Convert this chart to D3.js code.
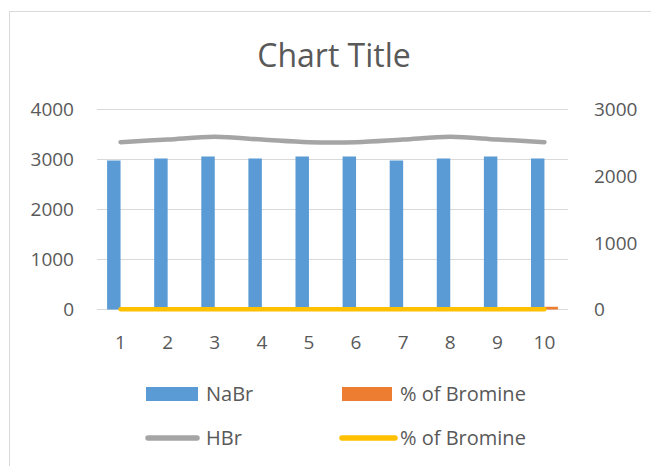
<!DOCTYPE html>
<html>
<head>
<meta charset="utf-8">
<script src="https://cdn.jsdelivr.net/npm/d3@7"></script>
<style>
  body { margin: 0; background: #fff; }
  svg text { font-family: "Open Sans", sans-serif; fill: #595959; }
</style>
</head>
<body>
<script>
// values
let categories = ['1', '2', '3', '4', '5', '6', '7', '8', '9', '10'];
let nabr = [2980, 3020, 3060, 3020, 3060, 3060, 2980, 3020, 3060, 3020];
let bromineBars = [50, 50, 50, 50, 50, 50, 50, 50, 50, 55];
let hbr = [2510, 2550, 2590, 2550, 2510, 2510, 2550, 2590, 2550, 2510];
let bromineLine = [5, 5, 5, 5, 5, 5, 5, 5, 5, 5];
let leftTicks = [0, 1000, 2000, 3000, 4000];
let rightTicks = [0, 1000, 2000, 3000];

const W = 651, H = 466;
const plotLeft = 97, plotRight = 568, plotTop = 109.5, plotBottom = 309.5;

var svg = d3.select('body').append('svg')
  .attr('width', W)
  .attr('height', H);

// chart border (runs off the right / bottom edge in the reference)
svg.append('rect')
  .attr('x', 9.5).attr('y', 11.5)
  .attr('width', 700).attr('height', 500)
  .attr('fill', '#fff')
  .attr('stroke', '#d9d9d9');

svg.append('text')
  .attr('x', 334).attr('y', 67)
  .attr('text-anchor', 'middle')
  .style('font-size', '32px')
  .text('Chart Title');

var x = d3.scaleBand().domain(categories).range([plotLeft, plotRight]);
var y = d3.scaleLinear().domain([0, 4000]).range([plotBottom, plotTop]);
var y2 = d3.scaleLinear().domain([0, 3000]).range([plotBottom, plotTop]);

// excel style clustered bars, gap width 150%
var barW = x.bandwidth() / 3.5;
var groupOff = (x.bandwidth() - 2 * barW) / 2;

// gridlines
svg.append('g').selectAll('line')
  .data(leftTicks)
  .enter()
  .append('line')
  .attr('x1', plotLeft).attr('x2', plotRight)
  .attr('y1', function (d) { return y(d); })
  .attr('y2', function (d) { return y(d); })
  .attr('stroke', '#d9d9d9')
  .attr('stroke-width', 1);

// left axis labels
svg.append('g').selectAll('text')
  .data(leftTicks)
  .enter()
  .append('text')
  .attr('x', 74)
  .attr('y', function (d) { return y(d); })
  .attr('dy', '0.36em')
  .attr('text-anchor', 'end')
  .style('font-size', '19px')
  .text(function (d) { return d; });

// right axis labels
svg.append('g').selectAll('text')
  .data(rightTicks)
  .enter()
  .append('text')
  .attr('x', 594)
  .attr('y', function (d) { return y2(d); })
  .attr('dy', '0.36em')
  .style('font-size', '19px')
  .text(function (d) { return d; });

// x labels
svg.append('g').selectAll('text')
  .data(categories)
  .enter()
  .append('text')
  .attr('x', function (d) { return x(d) + x.bandwidth() / 2; })
  .attr('y', 342)
  .attr('dy', '0.36em')
  .attr('text-anchor', 'middle')
  .style('font-size', '19px')
  .text(function (d) { return d; });

// NaBr bars
svg.append('g').selectAll('rect')
  .data(nabr)
  .enter()
  .append('rect')
  .attr('x', function (d, i) { return x(categories[i]) + groupOff; })
  .attr('y', function (d) { return y(d); })
  .attr('width', barW)
  .attr('height', function (d) { return y(0) - y(d); })
  .attr('fill', '#5b9bd5');

// % of Bromine bars
svg.append('g').selectAll('rect')
  .data(bromineBars)
  .enter()
  .append('rect')
  .attr('x', function (d, i) { return x(categories[i]) + groupOff + barW; })
  .attr('y', function (d) { return y(d); })
  .attr('width', barW)
  .attr('height', function (d) { return y(0) - y(d); })
  .attr('fill', '#ed7d31');

var cx = function (d, i) { return x(categories[i]) + x.bandwidth() / 2; };

var smoothLine = d3.line()
  .x(cx)
  .y(function (d) { return y2(d); })
  .curve(d3.curveCatmullRom);

svg.append('path')
  .attr('d', smoothLine(hbr))
  .attr('fill', 'none')
  .attr('stroke', '#a5a5a5')
  .attr('stroke-width', 4.5)
  .attr('stroke-linecap', 'round');

svg.append('path')
  .attr('d', smoothLine(bromineLine))
  .attr('fill', 'none')
  .attr('stroke', '#ffc000')
  .attr('stroke-width', 4.5)
  .attr('stroke-linecap', 'round');

// legend
let legendNames = ['NaBr', '% of Bromine', 'HBr', '% of Bromine'];
let legendColors = ['#5b9bd5', '#ed7d31', '#a5a5a5', '#ffc000'];
let legendKinds = ['bar', 'bar', 'line', 'line'];

var legend = svg.append('g').selectAll('g')
  .data(legendNames)
  .enter()
  .append('g')
  .attr('transform', function (d, i) {
    return 'translate(' + (i % 2 == 0 ? 146 : 340) + ',' + (i < 2 ? 394 : 438) + ')';
  });

legend.each(function (d, i) {
  var g = d3.select(this);
  if (legendKinds[i] == 'bar') {
    g.append('rect')
      .attr('x', i % 2 == 0 ? 0 : 2).attr('y', -7)
      .attr('width', i % 2 == 0 ? 52 : 50).attr('height', 14)
      .attr('fill', legendColors[i]);
  } else {
    g.append('line')
      .attr('x1', 2).attr('x2', i % 2 == 0 ? 51 : 55)
      .attr('y1', 0).attr('y2', 0)
      .attr('stroke', legendColors[i])
      .attr('stroke-width', 5.5)
      .attr('stroke-linecap', 'round');
  }
  g.append('text')
    .attr('x', 60)
    .attr('y', 0)
    .attr('dy', '0.36em')
    .style('font-size', '20px')
    .text(d);
});
</script>
</body>
</html>
